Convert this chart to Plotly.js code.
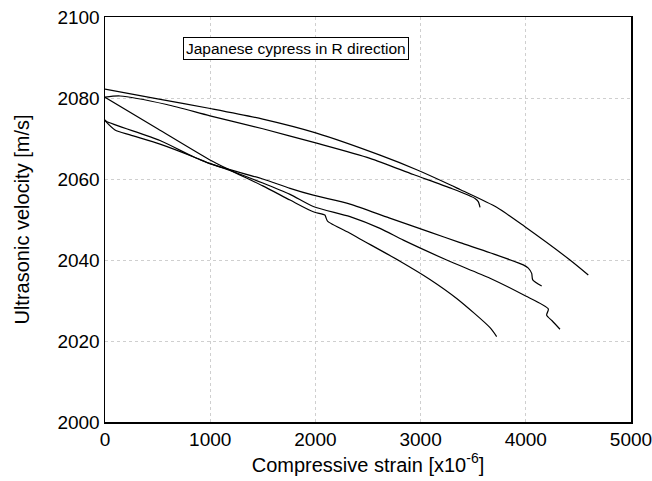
<!DOCTYPE html>
<html>
<head>
<meta charset="utf-8">
<script src="https://cdn.plot.ly/plotly-3.0.1.min.js"></script>
<style>html,body{margin:0;padding:0;background:#fff}#chart{width:652px;height:481px}</style>
</head>
<body>
<div id="chart"></div>
<script>
// Upper pair, long curve
const xA = [0, 500, 1000, 1500, 2003, 2614, 2963, 3279, 3375, 3723, 3992, 4420, 4594];
const yA = [2082.2, 2079.8, 2077.4, 2074.8, 2071.4, 2065.9, 2062.3, 2058.6, 2057.4, 2053.0, 2048.2, 2040.0, 2036.3];
// Upper pair, short curve with end hook
const xB = [0, 143, 586, 998, 1500, 2003, 2519, 2931, 3279, 3517, 3548, 3565];
const yB = [2080.2, 2080.5, 2078.4, 2075.6, 2072.4, 2068.9, 2065.1, 2061.1, 2057.8, 2055.2, 2054.4, 2053.0];
// Steep curve
const xC = [0, 500, 998, 1188, 1500, 1759, 1980, 2090, 2100, 2115, 2329, 2424, 2804, 3089, 3343, 3660, 3723];
const yC = [2080.2, 2072.4, 2064.7, 2062.2, 2058.3, 2054.8, 2051.9, 2051.1, 2050.5, 2049.6, 2046.6, 2045.2, 2039.7, 2035.2, 2030.5, 2023.3, 2021.1];
// Lower pair, curve ending near 4150
const xP = [0, 16, 523, 839, 998, 1188, 1500, 1759, 1980, 2329, 2700, 3089, 3375, 3660, 3976, 4024, 4056, 4066, 4151];
const yP = [2074.6, 2074.2, 2069.5, 2065.5, 2063.8, 2062.3, 2060.0, 2057.7, 2056.0, 2053.8, 2050.4, 2046.9, 2044.3, 2041.8, 2038.8, 2038.0, 2036.7, 2035.1, 2033.6];
// Lower pair, curve ending near 4330
const xQ = [0, 95, 238, 523, 839, 998, 1188, 1500, 1759, 1980, 2329, 2614, 2836, 3248, 3660, 3976, 4214, 4198, 4250, 4325];
const yQ = [2074.4, 2072.1, 2070.9, 2068.6, 2065.5, 2063.8, 2062.1, 2059.0, 2056.2, 2053.2, 2050.7, 2047.8, 2044.9, 2040.0, 2035.5, 2031.4, 2027.9, 2026.4, 2025.0, 2022.9];

const xTicks = [0, 1000, 2000, 3000, 4000, 5000];
const yTicks = [2000, 2020, 2040, 2060, 2080, 2100];
const labelText = 'Japanese cypress in R direction';
const xTitle = 'Compressive strain [x10<sup>-6</sup>]';
const yTitle = 'Ultrasonic velocity [m/s]';

const line = {color: '#000', width: 1.2, shape: 'spline', smoothing: 0.7};
const series = [[xA, yA], [xB, yB], [xC, yC], [xP, yP], [xQ, yQ]];
const traces = series.map(s => ({x: s[0], y: s[1], mode: 'lines', line: line, hoverinfo: 'skip'}));

const font = {family: 'Liberation Sans, Arial, sans-serif', color: '#000'};
const layout = {
  width: 652, height: 481,
  margin: {l: 105, r: 21, t: 17, b: 59},
  paper_bgcolor: '#fff', plot_bgcolor: '#fff',
  showlegend: false,
  font: Object.assign({size: 19}, font),
  xaxis: {
    range: [0, 5000], tickvals: xTicks, ticktext: xTicks.map(String),
    showgrid: true, gridcolor: '#cfcfcf', griddash: 'dot', gridwidth: 1,
    zeroline: false, showline: true, linecolor: '#000', linewidth: 1.5, mirror: true,
    ticks: '', ticklabeloverflow: 'allow', automargin: false,
    tickfont: Object.assign({size: 19}, font),
    title: {text: xTitle, font: Object.assign({size: 20}, font), standoff: 8}
  },
  yaxis: {
    range: [2000, 2100], tickvals: yTicks, ticktext: yTicks.map(String),
    showgrid: true, gridcolor: '#cfcfcf', griddash: 'dot', gridwidth: 1,
    zeroline: false, showline: true, linecolor: '#000', linewidth: 1.5, mirror: true,
    ticks: '', ticklabeloverflow: 'allow', automargin: false,
    tickfont: Object.assign({size: 19}, font),
    title: {text: yTitle, font: Object.assign({size: 20}, font), standoff: 22}
  },
  annotations: [{
    text: labelText, xref: 'paper', yref: 'paper', x: 0.363, y: 0.921,
    xanchor: 'center', yanchor: 'middle', showarrow: false,
    font: Object.assign({size: 15.5}, font),
    bordercolor: '#000', borderwidth: 1, borderpad: 2, bgcolor: '#fff'
  }]
};
Plotly.newPlot('chart', traces, layout, {staticPlot: true, displayModeBar: false});
</script>
</body>
</html>
